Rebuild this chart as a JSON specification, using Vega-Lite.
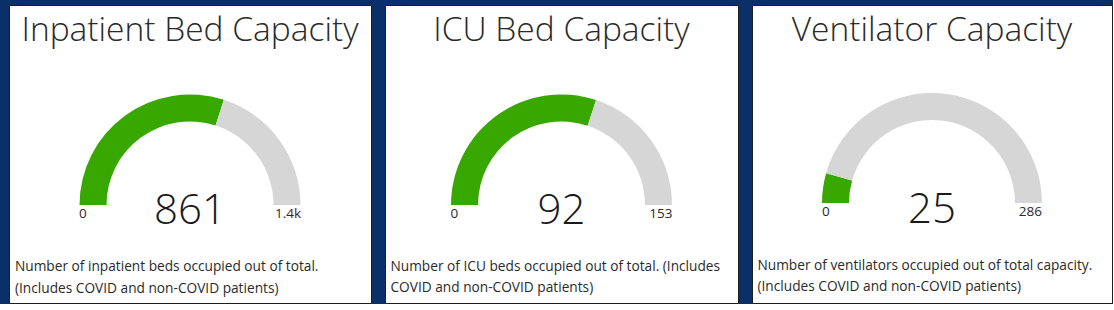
{
  "$schema": "https://vega.github.io/schema/vega-lite/v6.json",
  "background": "#0b2f68",
  "padding": {"left": 8, "top": 4, "right": 0, "bottom": 0},
  "spacing": 12,
  "config": {
    "view": {"fill": "white", "stroke": "#1e1e1e", "strokeWidth": 1},
    "text": {"font": "Open Sans", "color": "#2a2a2a"}
  },
  "hconcat": [
    {
      "width": 362,
      "height": 298,
      "data": {"values": [
        {"gauge": "Inpatient Bed Capacity", "segment": "occupied", "value": 861, "desc": ["Number of inpatient beds occupied out of total.", "(Includes COVID and non-COVID patients)"]},
        {"gauge": "Inpatient Bed Capacity", "segment": "available", "value": 576, "desc": ["Number of inpatient beds occupied out of total.", "(Includes COVID and non-COVID patients)"]}
      ]},
      "layer": [
        {
          "mark": {"type": "arc", "radius": 110.5, "radius2": 83.5},
          "encoding": {
            "theta": {"field": "value", "type": "quantitative", "stack": true, "scale": {"range": [-1.5707963, 1.5707963], "nice": false}},
            "order": {"field": "segment", "sort": "descending"},
            "color": {"field": "segment", "type": "nominal", "scale": {"domain": ["occupied", "available"], "range": ["#38a800", "#d6d6d6"]}, "legend": null},
            "y": {"datum": 200, "type": "quantitative", "scale": {"domain": [298, 0], "nice": false, "zero": false}, "axis": null}
          }
        },
        {
          "transform": [{"filter": "datum.segment == 'occupied'"}],
          "mark": {"type": "text", "fontSize": 33.5, "fontWeight": 300, "align": "center", "baseline": "alphabetic"},
          "encoding": {"text": {"field": "gauge", "type": "nominal"}, "y": {"datum": 36, "type": "quantitative"}}
        },
        {
          "transform": [{"filter": "datum.segment == 'occupied'"}],
          "mark": {"type": "text", "fontSize": 42, "fontWeight": 300, "align": "center", "baseline": "alphabetic", "color": "#1a1a1a"},
          "encoding": {"text": {"field": "value", "type": "quantitative", "format": "d"}, "y": {"datum": 219, "type": "quantitative"}}
        },
        {
          "transform": [{"filter": "datum.segment == 'occupied'"}],
          "mark": {"type": "text", "fontSize": 13.5, "align": "left", "baseline": "alphabetic", "dx": -111, "text": "0"},
          "encoding": {"y": {"datum": 213, "type": "quantitative"}}
        },
        {
          "transform": [{"aggregate": [{"op": "sum", "field": "value", "as": "total"}]}],
          "mark": {"type": "text", "fontSize": 13.5, "align": "right", "baseline": "alphabetic", "dx": 111},
          "encoding": {"text": {"field": "total", "type": "quantitative", "format": ".2~s"}, "y": {"datum": 213, "type": "quantitative"}}
        },
        {
          "transform": [{"filter": "datum.segment == 'occupied'"}],
          "mark": {"type": "text", "fontSize": 13.7, "align": "left", "baseline": "alphabetic", "lineHeight": 21.5},
          "encoding": {
            "text": {"field": "desc", "type": "nominal"},
            "x": {"datum": 6, "type": "quantitative", "scale": {"domain": [0, 362], "nice": false, "zero": false}, "axis": null},
            "y": {"datum": 266, "type": "quantitative"}
          }
        }
      ]
    },
    {
      "width": 353,
      "height": 298,
      "data": {"values": [
        {"gauge": "ICU Bed Capacity", "segment": "occupied", "value": 92, "desc": ["Number of ICU beds occupied out of total. (Includes", "COVID and non-COVID patients)"]},
        {"gauge": "ICU Bed Capacity", "segment": "available", "value": 61, "desc": ["Number of ICU beds occupied out of total. (Includes", "COVID and non-COVID patients)"]}
      ]},
      "layer": [
        {
          "mark": {"type": "arc", "radius": 110.5, "radius2": 83.5},
          "encoding": {
            "theta": {"field": "value", "type": "quantitative", "stack": true, "scale": {"range": [-1.5707963, 1.5707963], "nice": false}},
            "order": {"field": "segment", "sort": "descending"},
            "color": {"field": "segment", "type": "nominal", "scale": {"domain": ["occupied", "available"], "range": ["#38a800", "#d6d6d6"]}, "legend": null},
            "y": {"datum": 200, "type": "quantitative", "scale": {"domain": [298, 0], "nice": false, "zero": false}, "axis": null}
          }
        },
        {
          "transform": [{"filter": "datum.segment == 'occupied'"}],
          "mark": {"type": "text", "fontSize": 33.5, "fontWeight": 300, "align": "center", "baseline": "alphabetic"},
          "encoding": {"text": {"field": "gauge", "type": "nominal"}, "y": {"datum": 36, "type": "quantitative"}}
        },
        {
          "transform": [{"filter": "datum.segment == 'occupied'"}],
          "mark": {"type": "text", "fontSize": 42, "fontWeight": 300, "align": "center", "baseline": "alphabetic", "color": "#1a1a1a"},
          "encoding": {"text": {"field": "value", "type": "quantitative", "format": "d"}, "y": {"datum": 218.5, "type": "quantitative"}}
        },
        {
          "transform": [{"filter": "datum.segment == 'occupied'"}],
          "mark": {"type": "text", "fontSize": 13.5, "align": "left", "baseline": "alphabetic", "dx": -111, "text": "0"},
          "encoding": {"y": {"datum": 213, "type": "quantitative"}}
        },
        {
          "transform": [{"aggregate": [{"op": "sum", "field": "value", "as": "total"}]}],
          "mark": {"type": "text", "fontSize": 13.5, "align": "right", "baseline": "alphabetic", "dx": 111},
          "encoding": {"text": {"field": "total", "type": "quantitative", "format": "d"}, "y": {"datum": 213, "type": "quantitative"}}
        },
        {
          "transform": [{"filter": "datum.segment == 'occupied'"}],
          "mark": {"type": "text", "fontSize": 13.7, "align": "left", "baseline": "alphabetic", "lineHeight": 21},
          "encoding": {
            "text": {"field": "desc", "type": "nominal"},
            "x": {"datum": 5.5, "type": "quantitative", "scale": {"domain": [0, 353], "nice": false, "zero": false}, "axis": null},
            "y": {"datum": 266, "type": "quantitative"}
          }
        }
      ]
    },
    {
      "width": 360,
      "height": 298,
      "data": {"values": [
        {"gauge": "Ventilator Capacity", "segment": "occupied", "value": 25, "desc": ["Number of ventilators occupied out of total capacity.", "(Includes COVID and non-COVID patients)"]},
        {"gauge": "Ventilator Capacity", "segment": "available", "value": 261, "desc": ["Number of ventilators occupied out of total capacity.", "(Includes COVID and non-COVID patients)"]}
      ]},
      "layer": [
        {
          "mark": {"type": "arc", "radius": 110, "radius2": 83},
          "encoding": {
            "theta": {"field": "value", "type": "quantitative", "stack": true, "scale": {"range": [-1.5707963, 1.5707963], "nice": false}},
            "order": {"field": "segment", "sort": "descending"},
            "color": {"field": "segment", "type": "nominal", "scale": {"domain": ["occupied", "available"], "range": ["#38a800", "#d6d6d6"]}, "legend": null},
            "y": {"datum": 198, "type": "quantitative", "scale": {"domain": [298, 0], "nice": false, "zero": false}, "axis": null}
          }
        },
        {
          "transform": [{"filter": "datum.segment == 'occupied'"}],
          "mark": {"type": "text", "fontSize": 33.5, "fontWeight": 300, "align": "center", "baseline": "alphabetic"},
          "encoding": {"text": {"field": "gauge", "type": "nominal"}, "y": {"datum": 35.5, "type": "quantitative"}}
        },
        {
          "transform": [{"filter": "datum.segment == 'occupied'"}],
          "mark": {"type": "text", "fontSize": 42, "fontWeight": 300, "align": "center", "baseline": "alphabetic", "color": "#1a1a1a"},
          "encoding": {"text": {"field": "value", "type": "quantitative", "format": "d"}, "y": {"datum": 218, "type": "quantitative"}}
        },
        {
          "transform": [{"filter": "datum.segment == 'occupied'"}],
          "mark": {"type": "text", "fontSize": 13.5, "align": "left", "baseline": "alphabetic", "dx": -110, "text": "0"},
          "encoding": {"y": {"datum": 211, "type": "quantitative"}}
        },
        {
          "transform": [{"aggregate": [{"op": "sum", "field": "value", "as": "total"}]}],
          "mark": {"type": "text", "fontSize": 13.5, "align": "right", "baseline": "alphabetic", "dx": 110},
          "encoding": {"text": {"field": "total", "type": "quantitative", "format": "d"}, "y": {"datum": 211, "type": "quantitative"}}
        },
        {
          "transform": [{"filter": "datum.segment == 'occupied'"}],
          "mark": {"type": "text", "fontSize": 13.7, "align": "left", "baseline": "alphabetic", "lineHeight": 21},
          "encoding": {
            "text": {"field": "desc", "type": "nominal"},
            "x": {"datum": 5.5, "type": "quantitative", "scale": {"domain": [0, 360], "nice": false, "zero": false}, "axis": null},
            "y": {"datum": 265, "type": "quantitative"}
          }
        }
      ]
    }
  ]
}
